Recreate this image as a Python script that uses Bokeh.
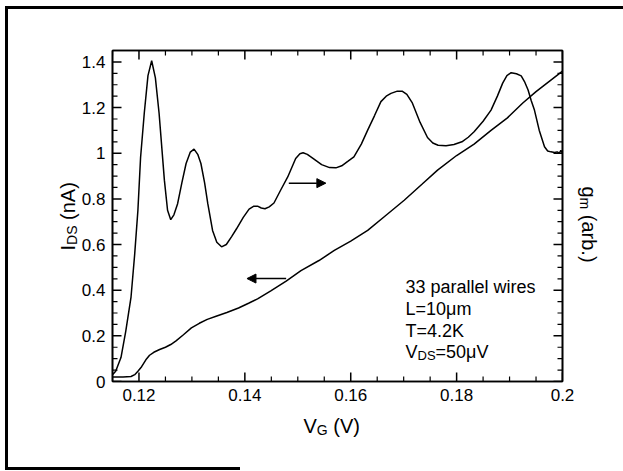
import numpy as np
from bokeh.plotting import figure
from bokeh.models import (Range1d, LinearAxis, FixedTicker, Label, Arrow, NormalHead,
                          CustomJSTickFormatter, InlineStyleSheet)
from bokeh.embed import file_html
from bokeh.resources import INLINE

# ---------------- data ----------------
vg_gm = [0.1150, 0.1156, 0.1166, 0.1175, 0.1185, 0.1192, 0.1198, 0.1203, 0.1210, 0.1217,
         0.1224, 0.1231, 0.1238, 0.1248, 0.1254, 0.1260, 0.1266, 0.1273, 0.1281, 0.1289,
         0.1297, 0.1304, 0.1311, 0.1317, 0.1324, 0.1330, 0.1339, 0.1347, 0.1356, 0.1365,
         0.1375, 0.1384, 0.1397, 0.1408, 0.1417, 0.1424, 0.1431, 0.1438, 0.1446, 0.1455,
         0.1468, 0.1481, 0.1496, 0.1504, 0.1510, 0.1518, 0.1530, 0.1545, 0.1560, 0.1572,
         0.1583, 0.1595, 0.1606, 0.1620, 0.1632, 0.1645, 0.1657, 0.1667, 0.1676, 0.1688,
         0.1697, 0.1706, 0.1716, 0.1731, 0.1745, 0.1755, 0.1765, 0.1780, 0.1795, 0.1810,
         0.1822, 0.1833, 0.1850, 0.1865, 0.1877, 0.1887, 0.1895, 0.1903, 0.1913, 0.1922,
         0.1929, 0.1935, 0.1941, 0.1947, 0.1956, 0.1966, 0.1972, 0.1978, 0.1985, 0.1990,
         0.1994, 0.1997, 0.2000]
gm = [0.030, 0.045, 0.105, 0.220, 0.370, 0.560, 0.750, 0.980, 1.175, 1.340,
      1.405, 1.330, 1.175, 0.882, 0.750, 0.709, 0.730, 0.779, 0.870, 0.955,
      1.005, 1.018, 0.995, 0.955, 0.870, 0.779, 0.662, 0.610, 0.590, 0.600,
      0.635, 0.668, 0.719, 0.755, 0.768, 0.768, 0.760, 0.757, 0.765, 0.782,
      0.840, 0.896, 0.977, 0.998, 1.002, 0.995, 0.975, 0.950, 0.937, 0.936,
      0.945, 0.965, 0.984, 1.040, 1.101, 1.165, 1.226, 1.250, 1.262, 1.272,
      1.272, 1.258, 1.222, 1.135, 1.069, 1.045, 1.035, 1.033, 1.038, 1.050,
      1.070, 1.094, 1.140, 1.189, 1.250, 1.307, 1.340, 1.353, 1.348, 1.339,
      1.310, 1.277, 1.230, 1.189, 1.101, 1.028, 1.010, 1.006, 1.003, 1.006,
      1.000, 1.012, 1.000]

vg_ids = [0.1150, 0.1170, 0.1185, 0.1192, 0.1198, 0.1205, 0.1213, 0.1220, 0.1228, 0.1239,
          0.1250, 0.1260, 0.1270, 0.1284, 0.1299, 0.1314, 0.1329, 0.1347, 0.1366, 0.1388,
          0.1407, 0.1424, 0.1449, 0.1478, 0.1506, 0.1540, 0.1569, 0.1600, 0.1632, 0.1665,
          0.1701, 0.1735, 0.1764, 0.1800, 0.1833, 0.1865, 0.1896, 0.1925, 0.1950, 0.1975,
          0.2000]
ids = [0.020, 0.020, 0.022, 0.030, 0.045, 0.065, 0.095, 0.115, 0.128, 0.140,
       0.150, 0.162, 0.178, 0.205, 0.235, 0.255, 0.272, 0.287, 0.302, 0.322,
       0.343, 0.362, 0.397, 0.440, 0.486, 0.530, 0.574, 0.615, 0.662, 0.725,
       0.794, 0.865, 0.926, 0.990, 1.040, 1.100, 1.155, 1.220, 1.270, 1.315,
       1.360]

x_ticks = [0.12, 0.14, 0.16, 0.18, 0.2]
x_tick_labels = ["0.12", "0.14", "0.16", "0.18", "0.2"]
y_ticks = [0, 0.2, 0.4, 0.6, 0.8, 1, 1.2, 1.4]
y_tick_labels = ["0", "0.2", "0.4", "0.6", "0.8", "1", "1.2", "1.4"]
notes = ["33 parallel wires", "L=10μm", "T=4.2K"]

# arrows (data coords): start/end
arrow_right = dict(x0=0.1483, x1=0.1553, y=0.869)
arrow_left = dict(x0=0.1478, x1=0.1404, y=0.451)

# ---------------- layout ----------------
W, H = 623, 471
FL, FR, FT, FB = 112, 562, 50, 381
FONT = "Liberation Sans"
X0, X1, Y0, Y1 = 0.115, 0.2, 0.0, 1.45

p = figure(width=W, height=H, x_range=Range1d(X0, X1), y_range=Range1d(Y0, Y1),
           output_backend="svg", toolbar_location=None,
           min_border_left=FL, min_border_right=W - FR, min_border_top=FT,
           min_border_bottom=H - FB, x_axis_location=None, y_axis_location=None)
p.background_fill_color = "white"
p.border_fill_color = "white"
p.outline_line_color = "black"
p.outline_line_width = 1.6
p.xgrid.visible = False
p.ygrid.visible = False

# outer (scanned) page border drawn with CSS: left + top edge, and a partial bottom edge
p.stylesheets = [InlineStyleSheet(css="""
:host { position: relative; overflow: hidden; }
:host::before { content: ""; position: absolute; left: 5px; top: 6px; width: 618px;
  height: 464px; border-left: 3px solid #000; border-top: 3px solid #000;
  border-right: 0 none; border-bottom: 0 none; box-sizing: border-box;
  background: transparent; pointer-events: none; z-index: 20; }
:host::after { content: ""; position: absolute; left: 5px; top: 467px; width: 235px;
  height: 3px; background: #000; border: 0 none; pointer-events: none; z-index: 20; }
""")]

x_minor = [v for v in np.round(np.arange(X0, X1 + 1e-9, 0.005), 4)
           if min(abs(v - t) for t in x_ticks) > 1e-6]
y_minor = [v for v in np.round(np.arange(Y0, Y1 + 1e-9, 0.05), 3)
           if min(abs(v - t) for t in y_ticks) > 1e-6]


def style_axis(ax, labels):
    ax.axis_line_color = "black"
    ax.axis_line_width = 1.6
    ax.major_tick_in = 0
    ax.major_tick_out = 0
    ax.minor_tick_in = 0
    ax.minor_tick_out = 0
    ax.major_label_text_font = FONT
    ax.major_label_text_font_size = "17px"
    ax.major_label_text_color = "black"
    ax.major_label_standoff = 7
    if labels is None:
        ax.formatter = CustomJSTickFormatter(code="return ''")


xb = LinearAxis(ticker=FixedTicker(ticks=x_ticks))
xb.major_label_overrides = {t: l for t, l in zip(x_ticks, x_tick_labels)}
style_axis(xb, x_tick_labels)
p.add_layout(xb, "below")

xt = LinearAxis(ticker=FixedTicker(ticks=x_ticks))
style_axis(xt, None)
p.add_layout(xt, "above")

yl = LinearAxis(ticker=FixedTicker(ticks=y_ticks))
yl.major_label_overrides = {t: l for t, l in zip(y_ticks, y_tick_labels)}
style_axis(yl, y_tick_labels)
p.add_layout(yl, "left")

yr = LinearAxis(ticker=FixedTicker(ticks=y_ticks))
style_axis(yr, None)
p.add_layout(yr, "right")

# inward tick marks on all four sides (screen-length rays from the frame edges)
TK = dict(line_color="black", length_units="screen")
for xs, ln, lw in ((x_ticks, 9, 1.5), (x_minor, 5, 1.2)):
    p.ray(x=xs, y=[Y0] * len(xs), length=ln, angle=np.pi / 2, line_width=lw, **TK)
    p.ray(x=xs, y=[Y1] * len(xs), length=ln, angle=-np.pi / 2, line_width=lw, **TK)
for ys, ln, lw in ((y_ticks, 9, 1.5), (y_minor, 5, 1.2)):
    p.ray(x=[X0] * len(ys), y=ys, length=ln, angle=0.0, line_width=lw, **TK)
    p.ray(x=[X1] * len(ys), y=ys, length=ln, angle=np.pi, line_width=lw, **TK)

# curves
p.line(vg_gm, gm, line_color="black", line_width=1.5)
p.line(vg_ids, ids, line_color="black", line_width=1.5)

# arrows
for a in (arrow_right, arrow_left):
    p.add_layout(Arrow(x_start=a["x0"], y_start=a["y"], x_end=a["x1"], y_end=a["y"],
                       line_color="black", line_width=1.5,
                       end=NormalHead(size=9, fill_color="black", line_color="black")))

# ---------------- text helpers ----------------
CW = {" ": 278, "(": 333, ")": 333, ".": 278, "=": 584, "A": 667, "D": 722, "G": 778,
      "I": 278, "K": 667, "L": 556, "S": 667, "T": 611, "V": 667, "a": 556, "b": 556,
      "e": 556, "g": 556, "i": 222, "l": 222, "m": 833, "n": 556, "p": 556, "r": 333,
      "s": 500, "w": 722, "μ": 576}


def text_run(segs, x, y, angle=0.0, units="screen", place=None):
    """segs: (text, size_px, subscript, leading_gap_px); (x, y) = baseline start.
    units='screen': frame-relative, y upward.  units='canvas': canvas px, y downward."""
    down = 1 if units == "canvas" else -1
    for txt, size, sub, gap in segs:
        if angle == 0:
            x += gap
        elif angle > 0:
            y -= down * gap
        else:
            y += down * gap
        w = sum(CW.get(c, 556) for c in txt) / 1000.0 * size
        off = 4 if sub else 0
        if angle == 0:
            lx, ly = x, y + down * off
        elif angle > 0:
            lx, ly = x + off, y
        else:
            lx, ly = x - off, y
        lab = Label(x=lx, y=ly, x_units=units, y_units=units, text=txt,
                    angle=angle, text_font=FONT, text_font_size=f"{size}px",
                    text_baseline="alphabetic", text_align="left", text_color="black")
        if place is None:
            p.add_layout(lab)
        else:
            p.add_layout(lab, place)
        if angle == 0:
            x += w
        elif angle > 0:
            y -= down * w
        else:
            y += down * w


def sx(px):
    return px - FL


def sy(py):
    return FB - py


# axis titles (outside the frame: canvas units in side panels)
text_run([("V", 20, False, 0), ("G", 14, True, 0), ("(V)", 20, False, 5.5)], 303, 425,
         units="canvas", place="below")
text_run([("I", 20, False, 0), ("DS", 14, True, 0), ("(nA)", 20, False, 5.5)], 67, 250,
         angle=np.pi / 2, units="canvas", place="left")
text_run([("g", 20, False, 0), ("m", 14, True, 0), ("(arb.)", 20, False, 5.5)], 588, 186,
         angle=-np.pi / 2, units="canvas", place="right")

# notes (inside the frame)
for txt, base in zip(notes, [286, 308, 330]):
    text_run([(txt, 18, False, 0)], sx(405), sy(base))
text_run([("V", 18, False, 0), ("DS", 13, True, 0), ("=50μV", 18, False, 0)],
         sx(405), sy(351))

open("out.html", "w").write(file_html(p, INLINE))
